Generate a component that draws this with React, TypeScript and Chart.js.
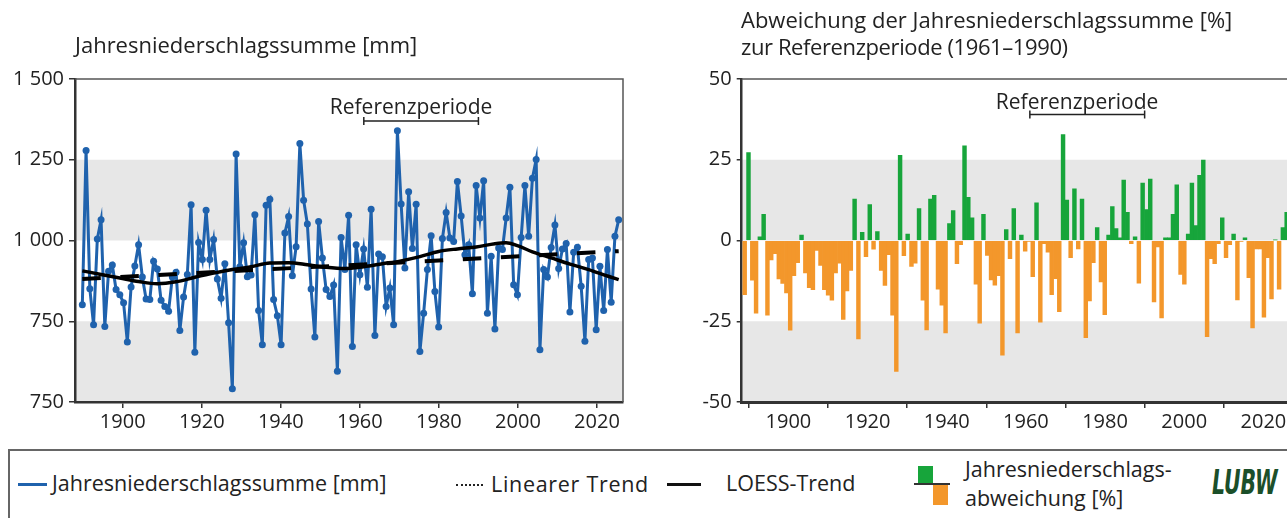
import React, { useEffect, useRef } from "react";
import { Chart, registerables } from "chart.js";

Chart.register(...registerables);

// ---------- data ----------
const firstYear = 1881;
const years = Array.from({ length: 144 }, (_, i) => firstYear + i);

// Jahresniederschlagssumme [mm]
const precipitation = [
  801, 1279, 851, 739, 1005, 1064, 734, 905, 924, 848, 832, 807, 686, 856, 921, 987, 887, 819, 817, 936,
  912, 815, 796, 781, 887, 902, 721, 825, 895, 1111, 654, 994, 941, 1094, 941, 1003, 881, 821, 928, 745,
  541, 1268, 919, 993, 888, 893, 1080, 783, 677, 1109, 1128, 817, 767, 677, 1023, 1074, 891, 981, 1300,
  1125, 1051, 850, 701, 1059, 946, 848, 827, 862, 595, 1009, 910, 1078, 672, 987, 894, 974, 855, 1097, 706,
  958, 950, 796, 853, 739, 1340, 1113, 915, 1151, 975, 1112, 656, 775, 910, 1015, 842, 732, 1006, 1087, 1008,
  997, 1183, 1076, 956, 987, 835, 1170, 1070, 1185, 775, 951, 726, 977, 972, 1070, 1165, 863, 832, 1009, 1170,
  1013, 1193, 1251, 662, 910, 887, 978, 1048, 913, 974, 991, 779, 964, 979, 858, 688, 941, 946, 724, 920,
  783, 972, 809, 1013, 1064,
];

// Abweichung [%]
const deviation = [
  -16.8, 27.2, -12.3, -22.5, 1.1, 8.1, -23.1, -6.0, -4.1, -11.9, -13.3, -16.2, -27.8, -10.9, -6.9, 1.7, -10.0, -14.6, -15.2, -3.1,
  -7.7, -15.2, -16.9, -18.5, -10.0, -7.0, -24.4, -15.6, -9.3, 12.8, -30.5, 2.5, -5.0, 11.1, -2.7, 2.8, -9.3, -13.9, -4.4, -23.1,
  -40.5, 26.4, -4.7, 2.0, -8.0, -7.0, 9.9, -18.5, -27.7, 12.8, 14.0, -15.1, -20.0, -28.6, 5.2, 9.3, -7.2, -1.3, 29.3,
  13.4, 7.0, -13.5, -25.6, 8.1, -4.6, -12.2, -13.8, -10.9, -35.5, 3.4, -5.6, 9.9, -28.6, 1.7, -3.3, -0.3, -11.2, 11.7, -25.3,
  -1.0, -3.6, -16.8, -11.8, -22.0, 32.8, 12.5, -5.3, 16.0, -2.6, 12.8, -30.1, -18.7, -6.9, 4.0, -12.8, -23.0, 1.7, 10.5, 3.7,
  0.8, 18.7, 8.7, -1.0, 1.1, -13.2, 17.8, 9.6, 19.0, -19.0, -2.0, -24.0, 0.8, 0.8, 8.1, 17.2, -10.5, -13.5, 2.0, 17.8,
  4.6, 20.2, 24.9, -29.8, -5.6, -7.2, -1.0, 7.0, -5.3, -1.3, 2.0, -18.4, -0.3, 0.8, -11.5, -27.1, -2.6, -2.6, -23.7, -5.3,
  -18.1, 0.2, -15.1, 4.0, 8.7,
];

const loessYears = [1881, 1886, 1891, 1896, 1901, 1906, 1911, 1916, 1921, 1926, 1931, 1936, 1941, 1946, 1951, 1956, 1961, 1966, 1971, 1976, 1981, 1986, 1991, 1994, 1997, 2001, 2006, 2011, 2016, 2021, 2024];
const loessValues = [906, 895, 884, 873, 866, 872, 886, 899, 910, 919, 930, 931, 925, 917, 913, 919, 928, 937, 950, 966, 974, 980, 990, 993, 984, 965, 946, 927, 910, 890, 879];

const trendYears = [1881, 2024];
const trendValues = [881, 967];

const axisYears = [1900, 1920, 1940, 1960, 1980, 2000, 2020];
const leftTickValues = [500, 750, 1000, 1250, 1500];
const leftTickLabels = ["750", "750", "1 000", "1 250", "1 500"];
const rightTickValues = [-50, -25, 0, 25, 50];
const rightTickLabels = ["-50", "-25", "0", "25", "50"];
const leftBands = [[500, 750], [1000, 1250]];
const rightBands = [[-50, -25], [0, 25]];
const referencePeriod = [1961, 1990];

// ---------- style ----------
const FONT = '"Open Sans", "Liberation Sans", Arial, sans-serif';
const BLUE = "#1f62ad";
const GREEN = "#17a53b";
const ORANGE = "#f3972b";
const BAND = "#e7e7e7";
const AXIS = "#333333";
const TEXT = "#222222";

const bandsPlugin = {
  id: "bands",
  beforeDraw(chart: any, _a: any, opts: any) {
    const { ctx, chartArea: a, scales } = chart;
    const y = scales.y;
    ctx.save();
    ctx.fillStyle = opts.color;
    for (const [lo, hi] of opts.ranges) {
      const top = y.getPixelForValue(hi);
      const bottom = y.getPixelForValue(lo);
      ctx.fillRect(a.left, top, a.right - a.left, bottom - top);
    }
    ctx.restore();
  },
};

const framePlugin = {
  id: "frame",
  afterDatasetsDraw(chart: any, _a: any, opts: any) {
    const { ctx, chartArea: a } = chart;
    ctx.save();
    ctx.strokeStyle = opts.color;
    ctx.lineWidth = opts.width;
    ctx.beginPath();
    ctx.moveTo(a.left, a.top);
    ctx.lineTo(a.right, a.top);
    ctx.lineTo(a.right, a.bottom);
    ctx.stroke();
    ctx.restore();
  },
};

const refPlugin = {
  id: "refPeriod",
  afterDatasetsDraw(chart: any, _a: any, opts: any) {
    const { ctx, scales } = chart;
    const x0 = scales.x.getPixelForValue(opts.from);
    const x1 = scales.x.getPixelForValue(opts.to);
    const yb = scales.y.getPixelForValue(opts.level);
    ctx.save();
    ctx.strokeStyle = TEXT;
    ctx.lineWidth = 1.5;
    ctx.beginPath();
    ctx.moveTo(x0, yb);
    ctx.lineTo(x1, yb);
    ctx.moveTo(x0, yb - 4);
    ctx.lineTo(x0, yb + 4);
    ctx.moveTo(x1, yb - 4);
    ctx.lineTo(x1, yb + 4);
    ctx.stroke();
    ctx.fillStyle = TEXT;
    ctx.font = `${opts.size}px ${FONT}`;
    ctx.textAlign = "left";
    ctx.textBaseline = "alphabetic";
    ctx.fillText(opts.text, x0 - 34, yb - opts.gap);
    ctx.restore();
  },
};

function tickAxis(min: number, max: number, height: number, borderWidth: number) {
  return {
    type: "linear",
    position: "bottom",
    min,
    max,
    offset: false,
    afterBuildTicks: (s: any) => {
      s.ticks = axisYears.map((v) => ({ value: v }));
    },
    afterFit: (s: any) => {
      s.height = height;
    },
    grid: { drawOnChartArea: false, drawTicks: true, tickLength: 6, color: AXIS, lineWidth: 1.5 },
    border: { display: true, color: AXIS, width: borderWidth },
    ticks: {
      color: TEXT,
      font: { family: FONT, size: 20 },
      padding: 2,
      maxRotation: 0,
      autoSkip: false,
      callback: (v: any) => String(v),
    },
  };
}

function valueAxis(min: number, max: number, width: number, values: number[], labels: string[], tickLen: number) {
  return {
    type: "linear",
    position: "left",
    min,
    max,
    afterBuildTicks: (s: any) => {
      s.ticks = values.map((v) => ({ value: v }));
    },
    afterFit: (s: any) => {
      s.width = width;
    },
    grid: { drawOnChartArea: false, drawTicks: true, tickLength: tickLen, color: AXIS, lineWidth: 1.5 },
    border: { display: true, color: AXIS, width: 2.5 },
    ticks: {
      color: TEXT,
      font: { family: FONT, size: 20 },
      padding: 5,
      autoSkip: false,
      callback: (v: any) => labels[values.indexOf(v)] ?? "",
    },
  };
}

export default function App() {
  const leftRef = useRef<HTMLCanvasElement>(null);
  const rightRef = useRef<HTMLCanvasElement>(null);

  useEffect(() => {
    const left = new Chart(leftRef.current as HTMLCanvasElement, {
      type: "line",
      data: {
        datasets: [
          {
            label: "LOESS-Trend",
            data: loessYears.map((x, i) => ({ x, y: loessValues[i] })),
            xAxisID: "xd",
            borderColor: "#000",
            borderWidth: 3.5,
            pointRadius: 0,
            cubicInterpolationMode: "monotone",
            order: 0,
          },
          {
            label: "Linearer Trend",
            data: trendYears.map((x, i) => ({ x, y: trendValues[i] })),
            xAxisID: "xd",
            borderColor: "#000",
            borderWidth: 4,
            borderDash: [18.5, 19.6],
            pointRadius: 0,
            order: 1,
          },
          {
            label: "Jahresniederschlagssumme [mm]",
            data: years.map((x, i) => ({ x, y: precipitation[i] })),
            xAxisID: "xd",
            borderColor: BLUE,
            borderWidth: 3,
            pointRadius: 3.5,
            pointBackgroundColor: BLUE,
            pointBorderWidth: 0,
            tension: 0,
            order: 2,
          },
        ],
      },
      options: {
        responsive: false,
        maintainAspectRatio: false,
        animation: false,
        events: [],
        layout: { padding: { left: 8, right: 27, top: 79, bottom: 0 } },
        plugins: {
          legend: { display: false },
          tooltip: { enabled: false },
          bands: { ranges: leftBands, color: BAND },
          frame: { color: "#555", width: 1.5 },
          refPeriod: { from: referencePeriod[0], to: referencePeriod[1], level: 1370, text: "Referenzperiode", size: 21, gap: 7 },
        } as any,
        scales: {
          x: tickAxis(1887.93, 2026.58, 43, 2.5) as any,
          xd: { type: "linear", display: false, min: 1879.05, max: 2025.15, offset: false },
          y: valueAxis(500, 1500, 67, leftTickValues, leftTickLabels, 6) as any,
        },
      },
      plugins: [bandsPlugin, framePlugin, refPlugin],
    });

    const right = new Chart(rightRef.current as HTMLCanvasElement, {
      type: "bar",
      data: {
        datasets: [
          {
            label: "Jahresniederschlagsabweichung [%]",
            data: years.map((x, i) => ({ x, y: deviation[i] })),
            xAxisID: "xd",
            backgroundColor: (c: any) => ((c.raw && c.raw.y >= 0) ? GREEN : ORANGE),
            borderWidth: 0,
            barPercentage: 1,
            categoryPercentage: 1,
          },
        ],
      },
      options: {
        responsive: false,
        maintainAspectRatio: false,
        animation: false,
        events: [],
        layout: { padding: { left: 8, right: 20.3, top: 79, bottom: 0 } },
        plugins: {
          legend: { display: false },
          tooltip: { enabled: false },
          bands: { ranges: rightBands, color: BAND },
          frame: { color: "#555", width: 1.5 },
          refPeriod: { from: referencePeriod[0], to: referencePeriod[1], level: 39, text: "Referenzperiode", size: 21, gap: 6 },
        } as any,
        scales: {
          x: tickAxis(1888.2, 2026.65, 43, 3) as any,
          xd: { type: "linear", display: false, min: 1880.208, max: 2024.8, offset: false },
          y: valueAxis(-50, 50, 63.7, rightTickValues, rightTickLabels, 5) as any,
        },
      },
      plugins: [bandsPlugin, framePlugin, refPlugin],
    });

    return () => {
      left.destroy();
      right.destroy();
    };
  }, []);

  const abs = (s: any) => ({ position: "absolute" as const, ...s });

  return (
    <div
      style={{
        position: "fixed",
        left: 0,
        top: 0,
        width: 1287,
        height: 518,
        overflow: "hidden",
        background: "#fff",
        fontFamily: FONT,
        color: TEXT,
      }}
    >
      <canvas ref={leftRef} width={650} height={445} style={abs({ left: 0, top: 0 })} />
      <canvas ref={rightRef} width={640} height={445} style={abs({ left: 670, top: 0 })} />

      <div style={abs({ left: 75, top: 31, fontSize: 22, lineHeight: "27px", whiteSpace: "nowrap" })}>
        Jahresniederschlagssumme [mm]
      </div>
      <div style={abs({ left: 741, top: 6, fontSize: 22, lineHeight: "27px", whiteSpace: "nowrap" })}>
        Abweichung der Jahresniederschlagssumme [%]
        <br />
        <span style={{ letterSpacing: "-0.4px" }}>zur Referenzperiode (1961–1990)</span>
      </div>

      {/* legend */}
      <div style={abs({ left: 8, top: 449, width: 1400, height: 200, borderTop: "2px solid #666", borderLeft: "2px solid #666" })} />
      <div style={abs({ left: 18, top: 483, width: 29, height: 3, background: BLUE })} />
      <div style={abs({ left: 52, top: 471, fontSize: 21.5, lineHeight: "24px", whiteSpace: "nowrap" })}>
        Jahresniederschlagssumme [mm]
      </div>
      <div style={abs({ left: 456, top: 484, width: 27, height: 0, borderTop: "2px dotted #222" })} />
      <div style={abs({ left: 491, top: 472, fontSize: 21.5, lineHeight: "24px", whiteSpace: "nowrap", letterSpacing: "0.7px" })}>
        Linearer Trend
      </div>
      <div style={abs({ left: 667, top: 483, width: 34, height: 3, background: "#111" })} />
      <div style={abs({ left: 726, top: 471, fontSize: 21.5, lineHeight: "24px", whiteSpace: "nowrap" })}>
        LOESS-Trend
      </div>
      <div style={abs({ left: 918, top: 466, width: 15, height: 17, background: GREEN })} />
      <div style={abs({ left: 933, top: 485, width: 15, height: 20, background: ORANGE })} />
      <div style={abs({ left: 914, top: 483, width: 36, height: 1.5, background: "#333" })} />
      <div style={abs({ left: 965, top: 454, fontSize: 21.5, lineHeight: "29px", whiteSpace: "nowrap" })}>
        Jahresniederschlags-
        <br />
        abweichung [%]
      </div>
      <div
        style={abs({
          left: 1212,
          top: 465,
          fontSize: 33,
          lineHeight: "36px",
          fontWeight: 700,
          fontStyle: "italic",
          color: "#1b4f2a",
          fontFamily: '"DejaVu Sans", sans-serif',
          transform: "scaleX(0.62)",
          transformOrigin: "left top",
          whiteSpace: "nowrap",
        })}
      >
        LUBW
      </div>
    </div>
  );
}
